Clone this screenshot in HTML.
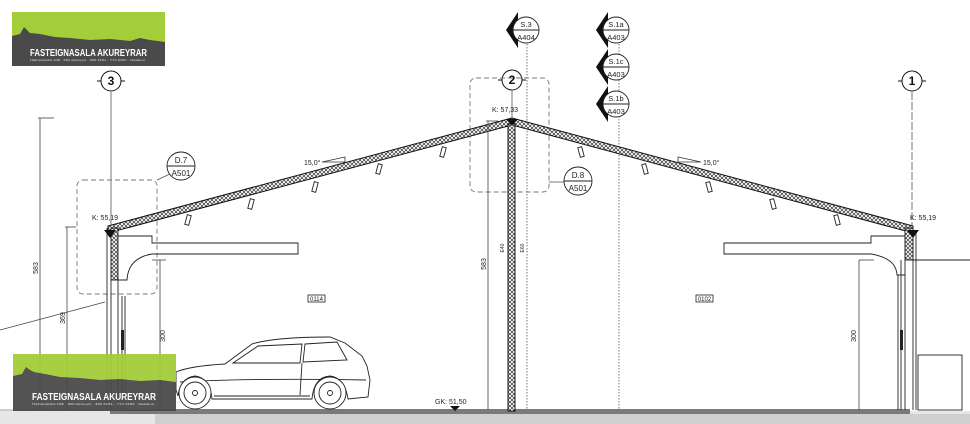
<!DOCTYPE html>
<html><head><meta charset="utf-8"><style>
html,body{margin:0;padding:0;background:#fff;}
svg{display:block;font-family:"Liberation Sans",sans-serif;}
</style></head><body>
<svg width="970" height="424" viewBox="0 0 970 424" xmlns="http://www.w3.org/2000/svg">
<defs>
<pattern id="h" width="4" height="4" patternUnits="userSpaceOnUse">
<rect width="4" height="4" fill="#fff"/>
<path d="M0 0L4 4M4 0L0 4" stroke="#333" stroke-width="0.7"/>
</pattern>
</defs>
<!-- floor -->
<rect x="0" y="411" width="970" height="13" fill="#e6e6e6"/>
<rect x="110" y="409" width="800" height="5" fill="#7a7a7a"/>
<rect x="155" y="414" width="815" height="10" fill="#cfcfcf"/>
<line x1="0" y1="410" x2="110" y2="410" stroke="#999"/>

<!-- grid lines -->
<g stroke="#555" stroke-width="0.8" fill="none">
<line x1="111" y1="92" x2="111" y2="228"/>
<line x1="512" y1="91" x2="512" y2="118"/>
<line x1="912" y1="92" x2="912" y2="226" stroke-dasharray="8 2"/>
<line x1="527" y1="44" x2="527" y2="410" stroke-dasharray="1.5 1.5"/>
<line x1="619" y1="44" x2="619" y2="410" stroke-dasharray="1.5 1.5"/>
</g>
<!-- grid circles -->
<g stroke="#111" stroke-width="1" fill="#fff">
<circle cx="111" cy="81" r="10"/><line x1="97" y1="81" x2="101" y2="81"/><line x1="121" y1="81" x2="125" y2="81"/>
<circle cx="512" cy="80" r="10"/><line x1="498" y1="80" x2="502" y2="80"/><line x1="522" y1="80" x2="526" y2="80"/>
<circle cx="912" cy="81" r="10"/><line x1="898" y1="81" x2="902" y2="81"/><line x1="922" y1="81" x2="926" y2="81"/>
</g>
<g font-size="12" font-weight="bold" text-anchor="middle" fill="#111">
<text x="111" y="85">3</text><text x="512" y="84">2</text><text x="912" y="85">1</text>
</g>

<!-- dashed callout boxes -->
<g stroke="#777" stroke-width="0.9" fill="none" stroke-dasharray="5 3">
<rect x="77" y="180" width="80" height="114" rx="6"/>
<rect x="470" y="78" width="79" height="114" rx="6"/>
</g>
<line x1="157" y1="180" x2="170" y2="174" stroke="#555" stroke-width="0.8"/>
<line x1="549" y1="182" x2="564" y2="182" stroke="#555" stroke-width="0.8"/>
<g stroke="#222" stroke-width="0.9" fill="#fff">
<circle cx="181" cy="166" r="14"/><line x1="167" y1="166" x2="195" y2="166"/>
<circle cx="578" cy="181" r="14"/><line x1="564" y1="181" x2="592" y2="181"/>
</g>
<g font-size="8" text-anchor="middle" fill="#222">
<text x="181" y="163">D.7</text><text x="181" y="176">A501</text>
<text x="578" y="178">D.8</text><text x="578" y="191">A501</text>
</g>

<!-- section markers -->
<g fill="#111">
<path d="M506 30 L518 12 L518 48 Z"/>
<path d="M596 30 L608 12 L608 48 Z"/>
<path d="M596 67 L608 49 L608 85 Z"/>
<path d="M596 104 L608 86 L608 122 Z"/>
</g>
<g stroke="#222" stroke-width="0.9" fill="#fff">
<circle cx="526" cy="30" r="13"/><line x1="513" y1="30" x2="539" y2="30"/>
<circle cx="616" cy="30" r="13"/><line x1="603" y1="30" x2="629" y2="30"/>
<circle cx="616" cy="67" r="13"/><line x1="603" y1="67" x2="629" y2="67"/>
<circle cx="616" cy="104" r="13"/><line x1="603" y1="104" x2="629" y2="104"/>
</g>
<g font-size="7.5" text-anchor="middle" fill="#222">
<text x="526" y="27">S.3</text><text x="526" y="40">A404</text>
<text x="616" y="27">S.1a</text><text x="616" y="40">A403</text>
<text x="616" y="64">S.1c</text><text x="616" y="77">A403</text>
<text x="616" y="101">S.1b</text><text x="616" y="114">A403</text>
</g>

<!-- roof -->
<polygon points="108,226 512,118 913,226 913,233 512,125 108,233" fill="url(#h)" stroke="#111" stroke-width="1"/>
<!-- central column -->
<rect x="508" y="124" width="7" height="287" fill="url(#h)" stroke="#111" stroke-width="1"/>
<!-- purlins -->
<g stroke="#222" stroke-width="0.9" fill="#fff">
<rect x="-2" y="-5" width="4" height="10" transform="translate(188,220) rotate(15)"/>
<rect x="-2" y="-5" width="4" height="10" transform="translate(251,204) rotate(15)"/>
<rect x="-2" y="-5" width="4" height="10" transform="translate(315,187) rotate(15)"/>
<rect x="-2" y="-5" width="4" height="10" transform="translate(379,169) rotate(15)"/>
<rect x="-2" y="-5" width="4" height="10" transform="translate(443,152) rotate(15)"/>
<rect x="-2" y="-5" width="4" height="10" transform="translate(581,152) rotate(-15)"/>
<rect x="-2" y="-5" width="4" height="10" transform="translate(645,169) rotate(-15)"/>
<rect x="-2" y="-5" width="4" height="10" transform="translate(709,187) rotate(-15)"/>
<rect x="-2" y="-5" width="4" height="10" transform="translate(773,204) rotate(-15)"/>
<rect x="-2" y="-5" width="4" height="10" transform="translate(837,220) rotate(-15)"/>
</g>
<!-- angle marks -->
<g stroke="#333" stroke-width="0.8" fill="none">
<path d="M322 162 L345 157 L345 162 Z"/>
<path d="M701 162 L678 157 L678 162 Z"/>
</g>
<g font-size="7" fill="#222">
<text x="304" y="165">15,0°</text><text x="703" y="165">15,0°</text>
</g>

<!-- left wall -->
<rect x="111" y="228" width="7" height="52" fill="url(#h)" stroke="#111" stroke-width="0.9"/>
<g stroke="#222" stroke-width="0.9" fill="none">
<line x1="107" y1="228" x2="107" y2="410"/>
<line x1="111" y1="280" x2="111" y2="410"/>
<line x1="118" y1="280" x2="118" y2="410"/>
<line x1="122" y1="296" x2="122" y2="410"/>
<line x1="125" y1="296" x2="125" y2="410"/>
<path d="M118 236 L152 236 L152 243 L298 243 L298 254 L152 254 Q128 258 127 280 L118 280"/>
</g>
<rect x="121" y="330" width="3" height="20" fill="#222"/>
<path d="M104 230 L116 230 L110 238 Z" fill="#111"/>
<!-- right wall -->
<rect x="905" y="228" width="8" height="32" fill="url(#h)" stroke="#111" stroke-width="0.9"/>
<g stroke="#222" stroke-width="0.9" fill="none">
<line x1="913" y1="226" x2="913" y2="410"/>
<line x1="916" y1="230" x2="916" y2="410"/>
<line x1="905" y1="260" x2="905" y2="410"/>
<line x1="901" y1="260" x2="901" y2="410"/>
<line x1="898" y1="275" x2="898" y2="410"/>
<path d="M905 236 L871 236 L871 243 L724 243 L724 254 L871 254 Q896 258 897 275 L905 275"/>
<line x1="913" y1="260" x2="970" y2="260"/>
<rect x="918" y="355" width="44" height="55"/>
</g>
<rect x="900" y="330" width="3" height="20" fill="#222"/>
<path d="M907 230 L919 230 L913 238 Z" fill="#111"/>
<path d="M506 119 L518 119 L512 126 Z" fill="#111"/>

<!-- dimension lines -->
<g stroke="#444" stroke-width="0.8" fill="none">
<line x1="40" y1="118" x2="40" y2="410"/><line x1="38" y1="118" x2="54" y2="118"/>
<line x1="67" y1="227" x2="67" y2="410"/><line x1="65" y1="227" x2="76" y2="227"/>
<line x1="160" y1="260" x2="160" y2="410"/><line x1="152" y1="260" x2="166" y2="260"/>
<line x1="488" y1="121" x2="488" y2="410"/><line x1="486" y1="121" x2="498" y2="121"/>
<line x1="859" y1="260" x2="859" y2="410"/><line x1="859" y1="260" x2="874" y2="260"/>
<line x1="0" y1="330" x2="105" y2="302"/>
</g>
<g font-size="7" fill="#222" text-anchor="middle">
<text transform="translate(38,268) rotate(-90)">583</text>
<text transform="translate(65,318) rotate(-90)">369</text>
<text transform="translate(165,336) rotate(-90)">300</text>
<text transform="translate(486,264) rotate(-90)">583</text>
<text transform="translate(856,336) rotate(-90)">300</text>
<text transform="translate(504,248) rotate(-90)" font-size="5">E40</text>
<text transform="translate(524,248) rotate(-90)" font-size="5">E60</text>
</g>
<g font-size="7" fill="#222">
<text x="92" y="220">K: 55,19</text>
<text x="910" y="220">K: 55,19</text>
<text x="492" y="112">K: 57,33</text>
<text x="435" y="404">GK: 51,50</text>
</g>
<path d="M450 406 L460 406 L455 411 Z" fill="#111"/>
<g stroke="#222" stroke-width="0.8" fill="#fff">
<rect x="308" y="295" width="17" height="7"/><rect x="696" y="295" width="17" height="7"/>
</g>
<g font-size="6" fill="#222" text-anchor="middle"><text x="316.5" y="301">0114</text><text x="704.5" y="301">0102</text></g>

<!-- car -->
<g stroke="#222" stroke-width="0.9" fill="#fff">
<path d="M176 372 Q190 366 225 364 L252 344 Q275 337 330 337 L345 343 L362 356 L367 366 L370 380 L368 397 L348 399 Q345 378 330 376 Q314 377 312 399 L212 399 Q210 378 195 376 Q180 378 178 396 L176 390 Z"/>
<path d="M233 363 L258 346 L302 344 L300 363 Z" fill="none"/>
<path d="M305 344 L337 342 L347 360 L303 362 Z" fill="none"/>
<line x1="302" y1="363" x2="300" y2="395"/>
<path d="M180 382 Q250 378 366 380" fill="none"/>
<path d="M214 396 L310 396" fill="none"/>
<circle cx="195" cy="393" r="16"/><circle cx="195" cy="393" r="11"/><circle cx="195" cy="393" r="2.5"/>
<circle cx="330" cy="393" r="16"/><circle cx="330" cy="393" r="11"/><circle cx="330" cy="393" r="2.5"/>
</g>

<!-- logos -->
<g>
<rect x="12" y="12" width="153" height="54" fill="#a4cd3a"/>
<path d="M12 66 L12 36 L20 34 L24 27 L27 30 L30 33 L40 34 L55 37 L70 38 L90 40 L110 39 L130 41 L140 38 L150 40 L165 42 L165 66 Z" fill="#4a4a4a"/>
<text x="30" y="56" font-size="10" font-weight="bold" fill="#fff" textLength="117" lengthAdjust="spacingAndGlyphs">FASTEIGNASALA AKUREYRAR</text>
<text x="30" y="61" font-size="2.5" fill="#ddd" textLength="115" lengthAdjust="spacingAndGlyphs">Hafnarstræti 108 · 600 Akureyri · 460 5151 · 773 0160 · fastak.is</text>
</g>
<g opacity="0.95">
<rect x="13" y="354" width="163" height="57" fill="#a4cd3a"/>
<path d="M13 411 L13 376 L22 374 L26 367 L30 370 L34 372 L45 374 L60 377 L80 378 L100 380 L120 379 L140 381 L160 380 L176 382 L176 411 Z" fill="#4a4a4a"/>
<text x="32" y="400" font-size="10.5" font-weight="bold" fill="#fff" textLength="124" lengthAdjust="spacingAndGlyphs">FASTEIGNASALA AKUREYRAR</text>
<text x="32" y="405" font-size="2.5" fill="#ddd" textLength="122" lengthAdjust="spacingAndGlyphs">Hafnarstræti 108 · 600 Akureyri · 460 5151 · 773 0160 · fastak.is</text>
</g>
</svg>
</body></html>
